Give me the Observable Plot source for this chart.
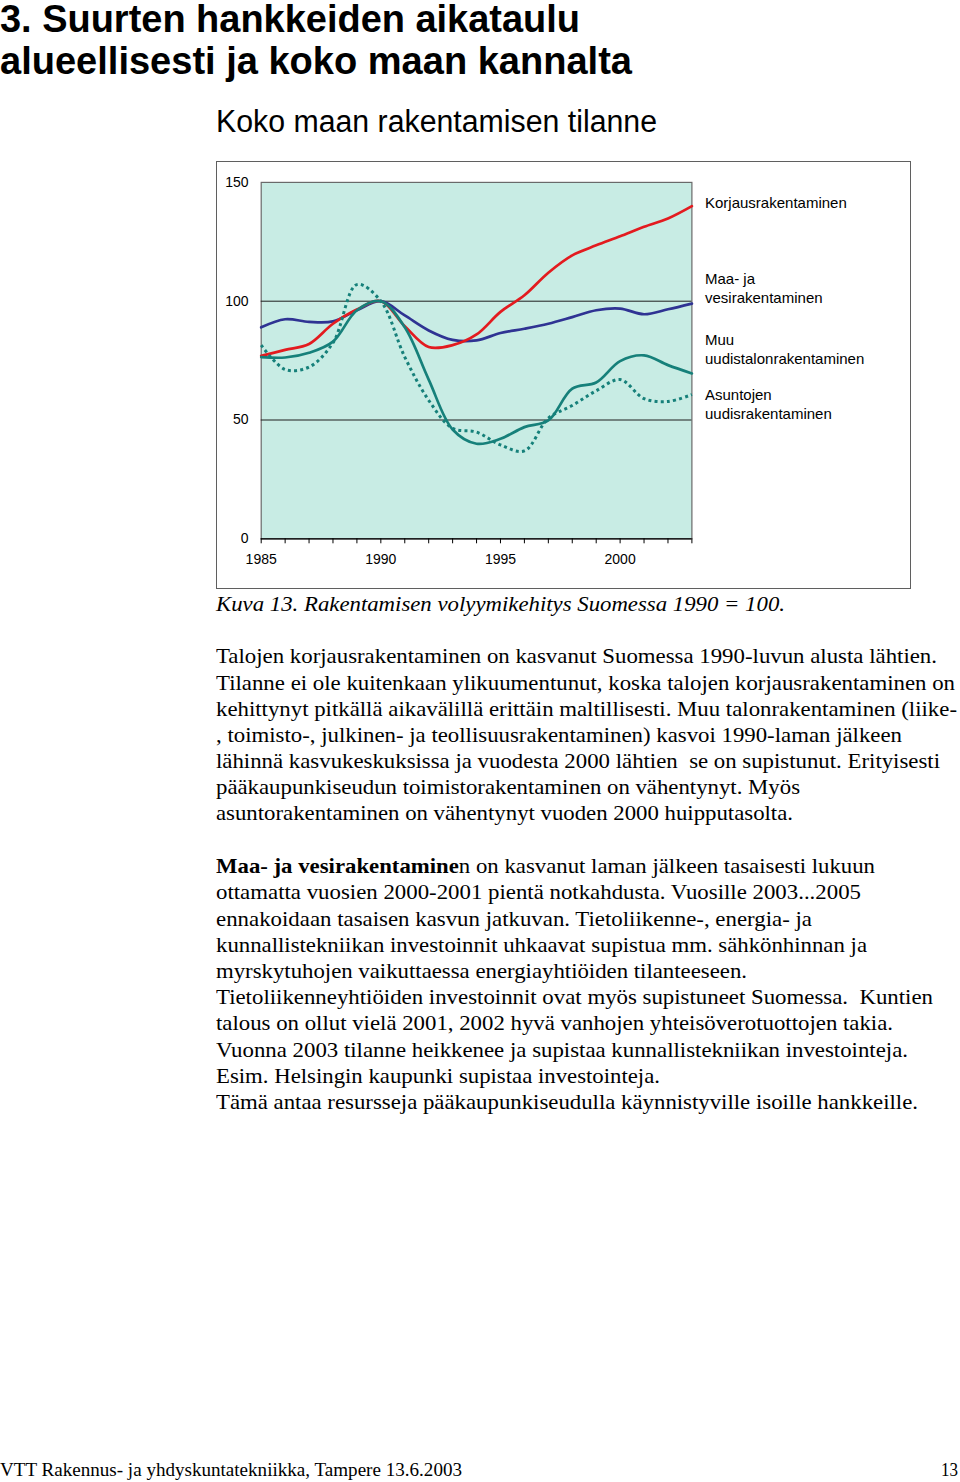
<!DOCTYPE html>
<html><head><meta charset="utf-8">
<script src="https://cdn.jsdelivr.net/npm/d3@7"></script>
<script src="https://cdn.jsdelivr.net/npm/@observablehq/plot@0.6"></script>
<style>
html,body{margin:0;padding:0;background:#fff;}
body{width:960px;height:1482px;position:relative;overflow:hidden;color:#000;}
.a{position:absolute;white-space:pre;transform-origin:0 50%;}
.title{font-family:"Liberation Sans",Arial,sans-serif;font-weight:bold;font-size:38px;line-height:34px;left:0;}
.sub{font-family:"Liberation Sans",Arial,sans-serif;font-size:31px;line-height:36px;left:216px;top:104px;}
.serif{font-family:"Liberation Serif","Times New Roman",serif;font-size:21px;line-height:26px;left:216px;}
.cap{font-style:italic;}
.foot{font-family:"Liberation Serif","Times New Roman",serif;font-size:19px;line-height:24px;top:1458px;}
.leg{font-family:Arial,"Liberation Sans",sans-serif;font-size:15px;line-height:19px;left:705px;}
#box{position:absolute;left:216px;top:161px;width:695px;height:428px;border:1.6px solid #5f5f5f;box-sizing:border-box;}
#chart{position:absolute;left:215px;top:160px;}
</style></head><body>
<div class="a title" style="top:2px" data-w="580">3. Suurten hankkeiden aikataulu</div>
<div class="a title" style="top:44px" data-w="632">alueellisesti ja koko maan kannalta</div>
<div class="a sub" data-w="441">Koko maan rakentamisen tilanne</div>

<div id="box"></div>
<div id="chart"></div>
<div class="a leg" style="top:193px">Korjausrakentaminen</div>
<div class="a leg" style="top:269px">Maa- ja<br>vesirakentaminen</div>
<div class="a leg" style="top:330px">Muu<br>uudistalonrakentaminen</div>
<div class="a leg" style="top:385px">Asuntojen<br>uudisrakentaminen</div>

<div class="a serif cap" style="top:591px" data-w="569">Kuva 13. Rakentamisen volyymikehitys Suomessa 1990 = 100.</div>

<div class="a serif" style="top:643px" data-w="721">Talojen korjausrakentaminen on kasvanut Suomessa 1990-luvun alusta lähtien.</div>
<div class="a serif" style="top:670px" data-w="739">Tilanne ei ole kuitenkaan ylikuumentunut, koska talojen korjausrakentaminen on</div>
<div class="a serif" style="top:696px" data-w="741">kehittynyt pitkällä aikavälillä erittäin maltillisesti. Muu talonrakentaminen (liike-</div>
<div class="a serif" style="top:722px" data-w="686">, toimisto-, julkinen- ja teollisuusrakentaminen) kasvoi 1990-laman jälkeen</div>
<div class="a serif" style="top:748px" data-w="724">lähinnä kasvukeskuksissa ja vuodesta 2000 lähtien  se on supistunut. Erityisesti</div>
<div class="a serif" style="top:774px" data-w="584">pääkaupunkiseudun toimistorakentaminen on vähentynyt. Myös</div>
<div class="a serif" style="top:800px" data-w="577">asuntorakentaminen on vähentynyt vuoden 2000 huipputasolta.</div>

<div class="a serif" style="top:853px" data-w="659"><b>Maa- ja vesirakentamine</b>n on kasvanut laman jälkeen tasaisesti lukuun</div>
<div class="a serif" style="top:879px" data-w="645">ottamatta vuosien 2000-2001 pientä notkahdusta. Vuosille 2003...2005</div>
<div class="a serif" style="top:906px" data-w="596">ennakoidaan tasaisen kasvun jatkuvan. Tietoliikenne-, energia- ja</div>
<div class="a serif" style="top:932px" data-w="651">kunnallistekniikan investoinnit uhkaavat supistua mm. sähkönhinnan ja</div>
<div class="a serif" style="top:958px" data-w="531">myrskytuhojen vaikuttaessa energiayhtiöiden tilanteeseen.</div>
<div class="a serif" style="top:984px" data-w="717">Tietoliikenneyhtiöiden investoinnit ovat myös supistuneet Suomessa.  Kuntien</div>
<div class="a serif" style="top:1010px" data-w="677">talous on ollut vielä 2001, 2002 hyvä vanhojen yhteisöverotuottojen takia.</div>
<div class="a serif" style="top:1037px" data-w="692">Vuonna 2003 tilanne heikkenee ja supistaa kunnallistekniikan investointeja.</div>
<div class="a serif" style="top:1063px" data-w="444">Esim. Helsingin kaupunki supistaa investointeja.</div>
<div class="a serif" style="top:1089px" data-w="702">Tämä antaa resursseja pääkaupunkiseudulla käynnistyville isoille hankkeille.</div>

<div class="a foot" style="left:0" data-w="462">VTT Rakennus- ja yhdyskuntatekniikka, Tampere 13.6.2003</div>
<div class="a foot" style="left:941px" data-w="17">13</div>

<script>
const years = [1985,1986,1987,1988,1989,1990,1991,1992,1993,1994,1995,1996,1997,1998,1999,2000,2001,2002,2003];
const korjausrakentaminen = [77,79.5,82,90.5,96.5,100,89.5,80.7,81.5,86,95.5,102.5,112,119.3,123.5,127.3,131.3,134.8,140];
const maaJaVesirakentaminen = [89,92.4,91.3,91.5,96.2,100,94,87.7,83.7,83.5,86.6,88.4,90.5,93.3,96.2,96.9,94.5,96.6,99];
const muuUudistalonrakentaminen = [76.5,76.3,78.3,83,96.2,100,89,67,46,40,42.1,47,49.8,63.2,65.8,74.8,77.2,73.1,69.6];
const asuntojenUudisrakentaminen = [81.5,71.3,72.3,82.5,107,100,76.5,58.3,46.5,44.9,39.5,37,50.8,56.1,62.3,67,59,57.8,60.7];
const yTicks = [0,50,100,150];
const xLabelTicks = [1985,1990,1995,2000];

const rows = vals => years.map((y,i)=>({year:y, value:vals[i]}));
const lineOpts = (color, extra={}) => Object.assign({x:"year", y:"value", stroke:color, strokeWidth:2.7, curve:"catmull-rom"}, extra);

const chart = Plot.plot({
  width: 696, height: 430,
  marginLeft: 45.7, marginRight: 219.6, marginTop: 21.9, marginBottom: 51.7,
  x: {domain:[1985,2003], axis:null, label:null},
  y: {domain:[0,150], axis:null, label:null},
  style: {fontFamily:"Arial, 'Liberation Sans', sans-serif", fontSize:"14px", color:"#000", background:"transparent", overflow:"visible"},
  marks: [
    Plot.frame({fill:"#c8ece4", stroke:"#6a6a6a", strokeWidth:1.2}),
    Plot.ruleY([50,100], {stroke:"#1e1e1e", strokeWidth:1}),
    Plot.ruleY([0], {stroke:"#000", strokeWidth:1.2}),
    Plot.axisX(years, {tickSize:5, tickFormat:()=> "", stroke:"#000", label:null}),
    Plot.axisX(xLabelTicks, {tickSize:0, tickPadding:15, tickFormat:d=>String(d), fontSize:14, label:null}),
    Plot.axisY(yTicks, {tickSize:0, tickPadding:12.7, tickFormat:d=>String(d), fontSize:14, label:null}),
    Plot.line(rows(maaJaVesirakentaminen), lineOpts("#2f3393")),
    Plot.line(rows(korjausrakentaminen), lineOpts("#e31b1f")),
    Plot.line(rows(asuntojenUudisrakentaminen), lineOpts("#16807a", {strokeDasharray:"3,3.2", strokeLinecap:"butt", strokeWidth:3})),
    Plot.line(rows(muuUudistalonrakentaminen), lineOpts("#16807a"))
  ]
});
document.getElementById("chart").appendChild(chart);

function fit(){
  document.querySelectorAll('[data-w]').forEach(el=>{
    el.style.transform='none';
    const w = el.getBoundingClientRect().width;
    const t = +el.dataset.w;
    if (w>0) el.style.transform = `scaleX(${t/w})`;
  });
}
fit();
if (document.fonts && document.fonts.ready) document.fonts.ready.then(fit);
</script>
</body></html>
